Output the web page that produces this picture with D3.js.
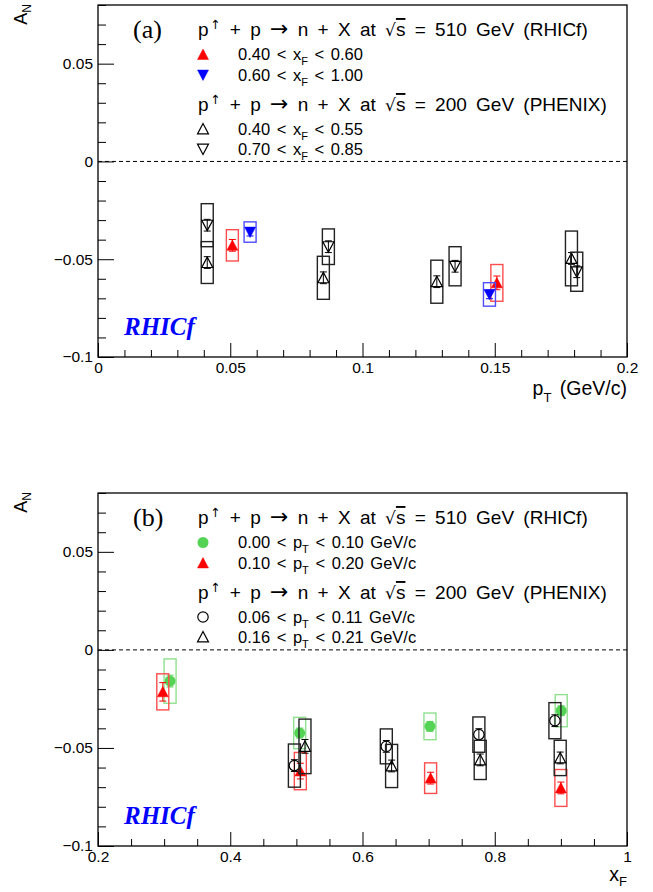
<!DOCTYPE html>
<html><head><meta charset="utf-8">
<script src="https://cdn.jsdelivr.net/npm/d3@7"></script>
<style>
html,body{margin:0;padding:0;background:#fff;}
</style></head>
<body><svg id="c" width="653" height="892" font-family="Liberation Sans, Arial, Helvetica, sans-serif"></svg>
<script>
// ---------- DATA ----------
// Panel (a): A_N vs pT
const rhicfA_lowXF_pT   = [0.0508, 0.1508];
const rhicfA_lowXF_AN   = [-0.0429, -0.0621];
const rhicfA_lowXF_syst = [0.0080, 0.0094];
const rhicfA_lowXF_stat = [0.0030, 0.0035];

const rhicfA_highXF_pT   = [0.0575, 0.1480];
const rhicfA_highXF_AN   = [-0.0361, -0.0680];
const rhicfA_highXF_syst = [0.0052, 0.0060];
const rhicfA_highXF_stat = [0.0020, 0.0022];

const phenixA_lowXF_pT   = [0.0413, 0.0852, 0.1281, 0.1790];
const phenixA_lowXF_AN   = [-0.0517, -0.0595, -0.0615, -0.0496];
const phenixA_lowXF_syst = [0.0107, 0.0110, 0.0110, 0.0140];
const phenixA_lowXF_stat = [0.0030, 0.0030, 0.0030, 0.0030];

const phenixA_highXF_pT   = [0.0413, 0.0871, 0.1350, 0.1810];
const phenixA_highXF_AN   = [-0.0326, -0.0436, -0.0536, -0.0564];
const phenixA_highXF_syst = [0.0110, 0.0091, 0.0100, 0.0100];
const phenixA_highXF_stat = [0.0030, 0.0030, 0.0030, 0.0030];

// Panel (b): A_N vs xF
const rhicfB_lowPT_xF   = [0.309, 0.505, 0.702, 0.9005];
const rhicfB_lowPT_AN   = [-0.0159, -0.0424, -0.0390, -0.0310];
const rhicfB_lowPT_syst = [0.0113, 0.0080, 0.0068, 0.0082];
const rhicfB_lowPT_stat = [0.0030, 0.0025, 0.0025, 0.0025];

const rhicfB_highPT_xF   = [0.298, 0.506, 0.703, 0.900];
const rhicfB_highPT_AN   = [-0.0214, -0.0618, -0.0654, -0.0704];
const rhicfB_highPT_syst = [0.0092, 0.0095, 0.0078, 0.0094];
const rhicfB_highPT_stat = [0.0047, 0.0040, 0.0030, 0.0030];

const phenixB_lowPT_xF   = [0.497, 0.636, 0.776, 0.891];
const phenixB_lowPT_AN   = [-0.0590, -0.0492, -0.0432, -0.0361];
const phenixB_lowPT_syst = [0.0110, 0.0089, 0.0090, 0.0092];
const phenixB_lowPT_stat = [0.0030, 0.0030, 0.0030, 0.0030];

const phenixB_highPT_xF   = [0.513, 0.644, 0.778, 0.899];
const phenixB_highPT_AN   = [-0.0492, -0.0592, -0.0561, -0.0551];
const phenixB_highPT_syst = [0.0139, 0.0110, 0.0100, 0.0090];
const phenixB_highPT_stat = [0.0035, 0.0030, 0.0030, 0.0030];

// Axes / ticks
const yDomain = [-0.1, 0.08];
const yMajorTicks = [-0.1, -0.05, 0, 0.05];
const yTickLabels = ["\u22120.1", "\u22120.05", "0", "0.05"];
const yMinorStep = 0.01;

const xDomainA = [0, 0.2];
const xMajorTicksA = [0, 0.05, 0.1, 0.15, 0.2];
const xTickLabelsA = ["0", "0.05", "0.1", "0.15", "0.2"];
const xMinorStepA = 0.01;

const xDomainB = [0.2, 1.0];
const xMajorTicksB = [0.2, 0.4, 0.6, 0.8, 1.0];
const xTickLabelsB = ["0.2", "0.4", "0.6", "0.8", "1"];
const xMinorStepB = 0.05;

// Legend texts
const legendA = {
  header1: "510 GeV (RHICf)", header2: "200 GeV (PHENIX)",
  entries: [["0.40 < x", "F", " < 0.60"], ["0.60 < x", "F", " < 1.00"],
            ["0.40 < x", "F", " < 0.55"], ["0.70 < x", "F", " < 0.85"]]
};
const legendB = {
  header1: "510 GeV (RHICf)", header2: "200 GeV (PHENIX)",
  entries: [["0.00 < p", "T", " < 0.10 GeV/c"], ["0.10 < p", "T", " < 0.20 GeV/c"],
            ["0.06 < p", "T", " < 0.11 GeV/c"], ["0.16 < p", "T", " < 0.21 GeV/c"]]
};

// ---------- DRAW ----------
const svg = d3.select("#c");
const LEFT = 98, RIGHT = 627;
const RED = "#ff0000", BLUE = "#0000ff", GREEN = "#55d355";
const REDBOX = "#ff4d4d", BLUEBOX = "#4d4dff", GREENBOX = "#8fe08f", BLACKBOX = "#222";

function range(a, b, step) {
  const out = [];
  const n = Math.round((b - a) / step);
  for (let i = 0; i <= n; i++) out.push(+(a + i * step).toFixed(6));
  return out;
}

function markerPath(type, cx, cy, s) {
  const h = s * 0.9, w = s;
  if (type === "up") return `M${cx},${cy - h/2 - 0.5}L${cx + w/2},${cy + h/2}L${cx - w/2},${cy + h/2}Z`;
  if (type === "down") return `M${cx},${cy + h/2 + 0.5}L${cx + w/2},${cy - h/2}L${cx - w/2},${cy - h/2}Z`;
  return null;
}

function drawMarker(g, type, filled, color, cx, cy) {
  if (type === "circle") {
    g.append("circle").attr("cx", cx).attr("cy", cy).attr("r", filled ? 5.5 : 5.2)
      .attr("fill", filled ? color : "none").attr("stroke", color).attr("stroke-width", filled ? 0 : 1.2);
  } else {
    g.append("path").attr("d", markerPath(type, cx, cy, 11))
      .attr("fill", filled ? color : "none").attr("stroke", color)
      .attr("stroke-width", filled ? 0.5 : 1.2).attr("stroke-linejoin", "miter");
  }
}

function drawSeries(g, xs, ys, X, Y, syst, stat, opt) {
  X.forEach((xv, i) => {
    const cx = xs(xv), cy = ys(Y[i]);
    g.append("rect").attr("x", cx - 6).attr("y", ys(Y[i] + syst[i]))
      .attr("width", 12).attr("height", ys(Y[i] - syst[i]) - ys(Y[i] + syst[i]))
      .attr("fill", "none").attr("stroke", opt.box).attr("stroke-width", 1.4);
    const y1 = ys(Y[i] + stat[i]), y2 = ys(Y[i] - stat[i]);
    g.append("path").attr("d", `M${cx},${y1}L${cx},${y2}M${cx-3.5},${y1}L${cx+3.5},${y1}M${cx-3.5},${y2}L${cx+3.5},${y2}`)
      .attr("stroke", opt.color).attr("stroke-width", 1).attr("fill", "none");
    drawMarker(g, opt.type, opt.filled, opt.color, cx, cy);
  });
}

function subText(sel, parts, subSize, subDy) {
  sel.append("tspan").text(parts[0]);
  sel.append("tspan").attr("font-size", subSize).attr("dy", subDy).text(parts[1]);
  if (parts[2]) sel.append("tspan").attr("dy", -subDy).text(parts[2]);
}

function header(g, x, y, energy) {
  const t = g.append("text").attr("x", x).attr("y", y).attr("font-size", 19)
    .attr("word-spacing", "4px");
  t.append("tspan").text("p");
  t.append("tspan").attr("font-size", 12.5).attr("font-family", "DejaVu Sans").attr("dx", 1.5).attr("dy", -7).text("\u2191");
  t.append("tspan").attr("dy", 7).text(" + p ");
  t.append("tspan").attr("font-family", "DejaVu Sans").attr("font-size", 22).text("\u2192");
  t.append("tspan").text(" n + X at ");
  t.append("tspan").attr("font-family", "DejaVu Sans").attr("font-size", 17).text("\u221A");
  t.append("tspan").style("text-decoration", "overline").text("s");
  t.append("tspan").text(" = " + energy);
}

function drawPanel(cfg) {
  const g = svg.append("g");
  const top = cfg.top, bottom = cfg.bottom;
  const xs = d3.scaleLinear().domain(cfg.xDomain).range([LEFT, RIGHT]);
  const ys = d3.scaleLinear().domain(yDomain).range([bottom, top]);

  g.append("rect").attr("x", LEFT).attr("y", top).attr("width", RIGHT - LEFT).attr("height", bottom - top)
    .attr("fill", "none").attr("stroke", "#000").attr("stroke-width", 1.3);

  const yMinor = range(yDomain[0], yDomain[1], yMinorStep).filter(v => !yMajorTicks.some(m => Math.abs(m - v) < 1e-6));
  g.append("g").attr("transform", `translate(${LEFT},0)`)
    .call(d3.axisLeft(ys).tickValues(yMinor).tickSize(-8).tickFormat(""))
    .call(a => a.select(".domain").remove());
  g.append("g").attr("transform", `translate(${LEFT},0)`)
    .call(d3.axisLeft(ys).tickValues(yMajorTicks).tickSize(-16).tickPadding(5)
      .tickFormat((d, i) => yTickLabels[i]))
    .call(a => a.select(".domain").remove())
    .call(a => a.selectAll("text").attr("font-size", 15.5).attr("font-family", "Liberation Sans").attr("fill", "#000"));

  const xMinor = range(cfg.xDomain[0], cfg.xDomain[1], cfg.xMinorStep).filter(v => !cfg.xMajor.some(m => Math.abs(m - v) < 1e-6));
  g.append("g").attr("transform", `translate(0,${bottom})`)
    .call(d3.axisBottom(xs).tickValues(xMinor).tickSize(-7).tickFormat(""))
    .call(a => a.select(".domain").remove());
  g.append("g").attr("transform", `translate(0,${bottom})`)
    .call(d3.axisBottom(xs).tickValues(cfg.xMajor).tickSize(-14).tickPadding(5)
      .tickFormat((d, i) => cfg.xLabels[i]))
    .call(a => a.select(".domain").remove())
    .call(a => a.selectAll("text").attr("font-size", 15.5).attr("font-family", "Liberation Sans").attr("fill", "#000"));
  g.selectAll(".tick line").attr("stroke", "#000").attr("stroke-width", 1);

  g.append("line").attr("x1", LEFT).attr("x2", RIGHT).attr("y1", ys(0)).attr("y2", ys(0))
    .attr("stroke", "#000").attr("stroke-width", 1).attr("stroke-dasharray", "4,3");

  const yt = g.append("text").attr("transform", `translate(27,${top - 1}) rotate(-90)`)
    .attr("text-anchor", "end").attr("font-size", 18);
  yt.append("tspan").text("A");
  yt.append("tspan").attr("font-size", 12).attr("dy", 4).text("N");
  const xt = g.append("text").attr("x", RIGHT).attr("y", bottom + cfg.xTitleDy).attr("text-anchor", "end")
    .attr("font-size", 19.5).attr("word-spacing", "3px");
  subText(xt, cfg.xTitle, 13, cfg.xSubDy);

  g.append("text").attr("x", 133).attr("y", top + 33).style("font-family", "'Liberation Serif', 'Times New Roman', serif")
    .attr("font-size", 26).text(cfg.label);
  g.append("text").attr("x", 124).attr("y", bottom - 22).style("font-family", "'Liberation Serif', 'Times New Roman', serif")
    .attr("font-weight", "bold").attr("font-style", "italic").attr("font-size", 25).attr("fill", BLUE).text("RHICf");

  const L = cfg.legend;
  header(g, 198, top + 31, L.header1);
  header(g, 198, top + 106, L.header2);
  const rowsY = [49.5, 70, 124, 144];
  cfg.series.forEach((s, i) => {
    drawMarker(g, s.type, s.filled, s.color, 203, top + rowsY[i]);
    const t = g.append("text").attr("x", 238).attr("y", top + rowsY[i] + 5.5).attr("font-size", 16.5)
      .attr("word-spacing", "2px");
    subText(t, L.entries[i], 11, 5);
  });

  cfg.series.forEach(s => drawSeries(g, xs, ys, s.X, s.Y, s.syst, s.stat, s));
}

drawPanel({
  top: 5, bottom: 357, xDomain: xDomainA, xMajor: xMajorTicksA, xLabels: xTickLabelsA, xMinorStep: xMinorStepA,
  xTitle: ["p", "T", " (GeV/c)"], xTitleDy: 38, xSubDy: 7, label: "(a)", legend: legendA,
  series: [
    {type: "up", filled: true, color: RED, box: REDBOX, X: rhicfA_lowXF_pT, Y: rhicfA_lowXF_AN, syst: rhicfA_lowXF_syst, stat: rhicfA_lowXF_stat},
    {type: "down", filled: true, color: BLUE, box: BLUEBOX, X: rhicfA_highXF_pT, Y: rhicfA_highXF_AN, syst: rhicfA_highXF_syst, stat: rhicfA_highXF_stat},
    {type: "up", filled: false, color: "#000", box: BLACKBOX, X: phenixA_lowXF_pT, Y: phenixA_lowXF_AN, syst: phenixA_lowXF_syst, stat: phenixA_lowXF_stat},
    {type: "down", filled: false, color: "#000", box: BLACKBOX, X: phenixA_highXF_pT, Y: phenixA_highXF_AN, syst: phenixA_highXF_syst, stat: phenixA_highXF_stat}
  ]
});

drawPanel({
  top: 493, bottom: 846, xDomain: xDomainB, xMajor: xMajorTicksB, xLabels: xTickLabelsB, xMinorStep: xMinorStepB,
  xTitle: ["x", "F", ""], xTitleDy: 35, xSubDy: 5, label: "(b)", legend: legendB,
  series: [
    {type: "circle", filled: true, color: GREEN, box: GREENBOX, X: rhicfB_lowPT_xF, Y: rhicfB_lowPT_AN, syst: rhicfB_lowPT_syst, stat: rhicfB_lowPT_stat},
    {type: "up", filled: true, color: RED, box: REDBOX, X: rhicfB_highPT_xF, Y: rhicfB_highPT_AN, syst: rhicfB_highPT_syst, stat: rhicfB_highPT_stat},
    {type: "circle", filled: false, color: "#000", box: BLACKBOX, X: phenixB_lowPT_xF, Y: phenixB_lowPT_AN, syst: phenixB_lowPT_syst, stat: phenixB_lowPT_stat},
    {type: "up", filled: false, color: "#000", box: BLACKBOX, X: phenixB_highPT_xF, Y: phenixB_highPT_AN, syst: phenixB_highPT_syst, stat: phenixB_highPT_stat}
  ]
});
</script></body></html>
